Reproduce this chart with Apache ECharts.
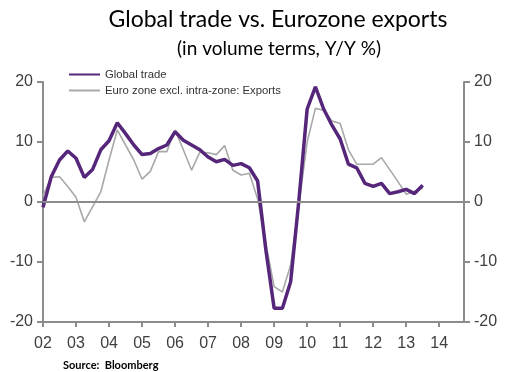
<!DOCTYPE html>
<html>
<head>
<meta charset="utf-8">
<script src="https://cdn.jsdelivr.net/npm/echarts@6/dist/echarts.min.js"></script>
<style>html,body{margin:0;padding:0;background:#fff}#c{width:506px;height:372px}</style>
</head>
<body>
<div id="c"></div>
<script>
// Quarterly categories 2002Q1 .. 2014Q4
const years = ['02','03','04','05','06','07','08','09','10','11','12','13','14'];
const quarters = [];
years.forEach(y => { for (let q = 1; q <= 4; q++) quarters.push(y + 'Q' + q); });

const globalTrade = [
  -0.9, 4.2, 7.0, 8.5,
  7.3, 4.1, 5.4, 8.7,
  10.2, 13.2, 11.4, 9.5,
  7.9, 8.1, 8.9, 9.5,
  11.7, 10.3, 9.5, 8.7,
  7.5, 6.7, 7.1, 6.1,
  6.4, 5.7, 3.5, -8.0,
  -17.7, -17.7, -13.3, 0.3,
  15.5, 19.2, 15.5, 12.8,
  10.5, 6.3, 5.7, 3.1,
  2.6, 3.1, 1.4, 1.7,
  2.1, 1.4, 2.8
];
const euroExports = [
  1.0, 4.1, 4.2, 2.6,
  0.8, -3.3, -0.8, 1.7,
  7.0, 12.0, 9.5, 7.0,
  3.8, 5.1, 8.4, 8.4,
  12.0, 8.7, 5.3, 8.3,
  8.2, 7.9, 9.4, 5.3,
  4.5, 4.8, 0.5, -7.0,
  -14.1, -15.0, -10.5, -0.5,
  10.0, 15.6, 15.3, 13.5,
  13.1, 8.7, 6.3, 6.3,
  6.3, 7.4, 5.4, 3.4,
  1.3, 1.8, 2.3
];
const yTicks = { min: -20, max: 20, interval: 10 };

const axisColor = '#8c8c8c';
const labelFont = { color: '#404040', fontSize: 16, fontFamily: 'Liberation Sans, Arial, sans-serif' };

const chart = echarts.init(document.getElementById('c'));
chart.setOption({
  animation: false,
  title: [
    { text: 'Global trade vs. Eurozone exports', left: 273, top: 3, textAlign: 'center',
      textStyle: { fontFamily: 'Lato, sans-serif', fontWeight: 'normal', fontSize: 23, color: '#000' } },
    { text: '(in volume terms, Y/Y %)', left: 274, top: 34, textAlign: 'center',
      textStyle: { fontFamily: 'Lato, sans-serif', fontWeight: 'normal', fontSize: 19, color: '#000' } },
    { text: 'Source:  Bloomberg', left: 58, top: 355,
      textStyle: { fontFamily: 'Lato, sans-serif', fontWeight: 'bold', fontSize: 11, color: '#000' } }
  ],
  legend: {
    orient: 'vertical', left: 63, top: 64, itemWidth: 31, itemHeight: 10, itemGap: 5,
    itemStyle: { opacity: 0 },
    textStyle: { fontFamily: 'Liberation Sans, Arial, sans-serif', fontSize: 11.3, color: '#333' },
    data: ['Global trade', 'Euro zone excl. intra-zone: Exports']
  },
  grid: { left: 43, right: 42, top: 82, bottom: 50 },
  xAxis: {
    type: 'category', data: quarters, boundaryGap: false,
    axisLine: { onZero: false, lineStyle: { color: axisColor, width: 2 } },
    axisTick: { interval: (i) => i % 4 === 0, length: 5, lineStyle: { color: axisColor, width: 2 } },
    axisLabel: Object.assign({ interval: (i) => i % 4 === 0, formatter: (v) => v.slice(0, 2), margin: 14 }, labelFont),
    splitLine: { show: false }
  },
  yAxis: [
    { type: 'value', position: 'left', min: yTicks.min, max: yTicks.max, interval: yTicks.interval,
      axisLine: { show: true, lineStyle: { color: axisColor, width: 2 } },
      axisTick: { show: true, length: 6, lineStyle: { color: axisColor, width: 2 } },
      axisLabel: Object.assign({ margin: 10 }, labelFont),
      splitLine: { show: false } },
    { type: 'value', position: 'right', min: yTicks.min, max: yTicks.max, interval: yTicks.interval,
      axisLine: { show: true, lineStyle: { color: axisColor, width: 2 } },
      axisTick: { show: true, length: 6, lineStyle: { color: axisColor, width: 2 } },
      axisLabel: Object.assign({ margin: 10 }, labelFont),
      splitLine: { show: false } }
  ],
  series: [
    { name: 'Euro zone excl. intra-zone: Exports', type: 'line', data: euroExports, symbol: 'none',
      lineStyle: { color: '#a8a8a8', width: 1.6 }, itemStyle: { color: '#a8a8a8' }, z: 2,
      markLine: { silent: true, symbol: 'none', label: { show: false },
        lineStyle: { color: axisColor, width: 2, type: 'solid' }, data: [{ yAxis: 0 }] } },
    { name: 'Global trade', type: 'line', data: globalTrade, symbol: 'none',
      lineStyle: { color: '#55267a', width: 3.5 }, itemStyle: { color: '#55267a' }, z: 3 }
  ]
});
</script>
</body>
</html>
